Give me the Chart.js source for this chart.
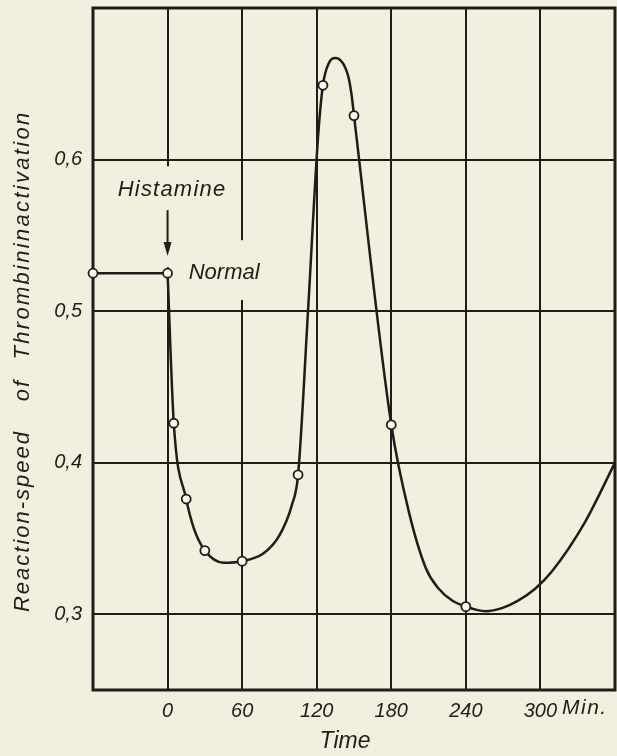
<!DOCTYPE html>
<html>
<head>
<meta charset="utf-8">
<script src="https://cdn.jsdelivr.net/npm/chart.js@4/dist/chart.umd.min.js"></script>
<style>
  html, body { margin: 0; padding: 0; background: #f3efdf; }
  #wrap { width: 617px; height: 756px; }
</style>
</head>
<body>
<div id="wrap"><canvas id="chart"></canvas></div>
<script>
// values (time in min, reaction speed)
const normalTimes = [-60, 0];
const normalValues = [0.525, 0.525];

const sampleTimes = [5, 15, 30, 60, 105, 125, 150, 180, 240];
const sampleValues = [0.426, 0.376, 0.342, 0.335, 0.392, 0.649, 0.629, 0.425, 0.305];

// hand-drawn curve through the samples
const curveTimes = [0, 5, 15, 21, 30, 45, 60, 77, 90, 100, 105, 113, 121, 125, 130, 135, 145, 148, 150, 180, 194, 208, 218, 229, 240, 256, 269, 282, 296, 309, 336, 360];
const curveValues = [0.525, 0.426, 0.376, 0.357, 0.342, 0.334, 0.335, 0.340, 0.352, 0.372, 0.392, 0.500, 0.614, 0.649, 0.664, 0.667, 0.656, 0.643, 0.629, 0.425, 0.368, 0.330, 0.317, 0.309, 0.305, 0.302, 0.304, 0.309, 0.317, 0.328, 0.361, 0.400];

const xTicks = [0, 60, 120, 180, 240, 300];
const yTicks = [0.3, 0.4, 0.5, 0.6];

const INK = "#1f1d17";
const PAPER = "#f3efdf";
const FONT = '"Liberation Sans", Arial, sans-serif';

const toPoints = (xs, ys) => xs.map((t, i) => ({ x: t, y: ys[i] }));

function spacedText(ctx, text, x, y, spacing) {
  ctx.letterSpacing = spacing + "px";
  ctx.fillText(text, x, y);
  ctx.letterSpacing = "0px";
}

function noPadding(scale) {
  scale.paddingTop = 0;
  scale.paddingBottom = 0;
  scale.paddingLeft = 0;
  scale.paddingRight = 0;
}

const annotate = {
  id: "annotate",
  beforeDatasetsDraw(chart) {
    const { ctx, chartArea: a, scales: { x, y } } = chart;
    ctx.save();
    // breaks in the grid where the labels sit
    ctx.fillStyle = PAPER;
    [[0, 0.5955, 0.529], [60, 0.5468, 0.5073]].forEach(([t, top, bottom]) => {
      const px = x.getPixelForValue(t);
      const y1 = y.getPixelForValue(top);
      const y2 = y.getPixelForValue(bottom);
      ctx.fillRect(px - 3, y1, 6, y2 - y1);
    });
    ctx.strokeStyle = INK;
    ctx.lineWidth = 3;
    ctx.strokeRect(a.left, a.top, a.width, a.height);
    ctx.restore();
  },
  afterDraw(chart) {
    const { ctx, scales: { x, y } } = chart;
    ctx.save();
    ctx.fillStyle = INK;
    ctx.strokeStyle = INK;
    ctx.textBaseline = "middle";

    ctx.font = "italic 22px " + FONT;
    ctx.textAlign = "center";
    spacedText(ctx, "Histamine", x.getPixelForValue(3.6), y.getPixelForValue(0.58), 1.2);
    ctx.textAlign = "left";
    ctx.fillText("Normal", x.getPixelForValue(17), y.getPixelForValue(0.525));

    // arrow
    const ax = x.getPixelForValue(0);
    const ay1 = y.getPixelForValue(0.5666);
    const ay2 = y.getPixelForValue(0.5363);
    ctx.lineWidth = 2;
    ctx.beginPath();
    ctx.moveTo(ax, ay1);
    ctx.lineTo(ax, ay2 - 10);
    ctx.stroke();
    ctx.beginPath();
    ctx.moveTo(ax - 4, ay2 - 14);
    ctx.lineTo(ax + 4, ay2 - 14);
    ctx.lineTo(ax, ay2);
    ctx.closePath();
    ctx.fill();

    // axis titles
    ctx.font = "italic 21px " + FONT;
    ctx.textAlign = "left";
    spacedText(ctx, "Min.", 562, 708, 1.5);
    ctx.font = "italic 23px " + FONT;
    ctx.textAlign = "center";
    ctx.fillText("Time", 345, 742);

    ctx.translate(23, 0);
    ctx.rotate(-Math.PI / 2);
    ctx.font = "italic 22px " + FONT;
    spacedText(ctx, "Reaction-speed", -521, 0, 2);
    spacedText(ctx, "of", -390, 0, 2);
    spacedText(ctx, "Thrombininactivation", -235, 0, 2.3);
    ctx.restore();
  }
};

new Chart(document.getElementById("chart"), {
  type: "scatter",
  data: {
    datasets: [
      {
        data: toPoints(sampleTimes, sampleValues),
        showLine: false,
        pointRadius: 4.5,
        pointBorderWidth: 1.8,
        pointBackgroundColor: "#fbfaf2",
        pointBorderColor: INK
      },
      {
        data: toPoints(normalTimes, normalValues),
        showLine: true,
        clip: false,
        borderColor: INK,
        borderWidth: 2.5,
        pointRadius: 4.5,
        pointBorderWidth: 1.8,
        pointBackgroundColor: "#fbfaf2",
        pointBorderColor: INK
      },
      {
        data: toPoints(curveTimes, curveValues),
        showLine: true,
        cubicInterpolationMode: "monotone",
        borderColor: INK,
        borderWidth: 2.5,
        pointRadius: 0
      }
    ]
  },
  options: {
    responsive: true,
    maintainAspectRatio: false,
    animation: false,
    layout: { autoPadding: false, padding: { top: 8, right: 2, left: 0, bottom: 0 } },
    plugins: { legend: { display: false }, tooltip: { enabled: false } },
    scales: {
      x: {
        type: "linear",
        min: -60,
        max: 360,
        afterBuildTicks: axis => { axis.ticks = xTicks.map(v => ({ value: v })); },
        afterFit: scale => { scale.height = 66; noPadding(scale); },
        border: { display: false },
        grid: { color: INK, lineWidth: 2, drawTicks: false },
        ticks: {
          color: INK,
          padding: 9,
          maxRotation: 0,
          font: { family: FONT, size: 20, style: "italic" },
          callback: v => String(v)
        }
      },
      y: {
        min: 0.25,
        max: 0.7,
        afterBuildTicks: axis => { axis.ticks = yTicks.map(v => ({ value: v })); },
        afterFit: scale => { scale.width = 93; noPadding(scale); },
        border: { display: false },
        grid: { color: INK, lineWidth: 2, drawTicks: false },
        ticks: {
          color: INK,
          padding: 11,
          font: { family: FONT, size: 20, style: "italic" },
          callback: v => v.toFixed(1).replace(".", ",")
        }
      }
    }
  },
  plugins: [annotate]
});
</script>
</body>
</html>
